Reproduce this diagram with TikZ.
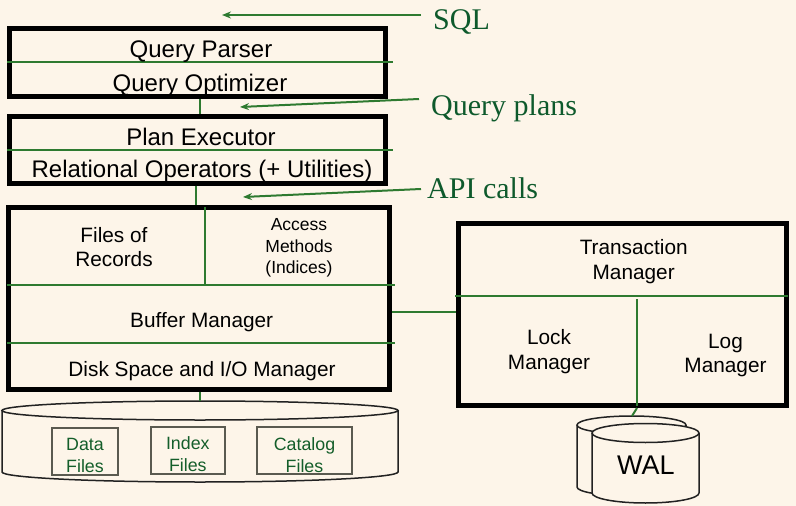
\documentclass[tikz,border=0pt]{standalone}
\usepackage{fontspec}
\setmainfont{Liberation Sans}
\newfontfamily\labelserif{Liberation Serif}
\usetikzlibrary{arrows.meta}
\definecolor{bg}{HTML}{FDF5E9}
\definecolor{gline}{HTML}{2E7A30}
\definecolor{glabel}{HTML}{0E5A2C}
\definecolor{ftext}{HTML}{145E2A}
\definecolor{cyl}{HTML}{222222}
\definecolor{fborder}{HTML}{5A5A50}
\begin{document}
\begin{tikzpicture}[x=1pt,y=-1pt,
  bigbox/.style={draw=black, line width=5pt, fill=bg, inner sep=0pt},
  grn/.style={draw=gline, line width=2pt},
  garrow/.style={grn, -{Stealth[length=9pt,width=7pt]}},
  lbl/.style={anchor=base, inner sep=0pt, align=center, text=black},
  big/.style={lbl, font=\fontsize{24}{28}\selectfont},
  mid/.style={lbl, font=\fontsize{20.8}{24.5}\selectfont},
  small/.style={lbl, font=\fontsize{17.5}{21.4}\selectfont},
  ftxt/.style={lbl, text=ftext, font=\fontsize{17.8}{22}\selectfont},
  fbox/.style={draw=fborder, line width=1.5pt, fill=bg, inner sep=0pt},
  slabel/.style={anchor=base west, inner sep=0pt, text=glabel, font=\labelserif\fontsize{30}{34}\selectfont},
  cylline/.style={draw=cyl, line width=1.5pt}
]
\fill[bg] (0,0) rectangle (796,506);
\useasboundingbox (0,0) rectangle (796,506);

% main boxes
\node[bigbox, minimum width=375.9pt, minimum height=68pt] (qbox) at (197.75,62) {};
\node[bigbox, minimum width=375.9pt, minimum height=67pt] (pbox) at (197.75,149.5) {};
\node[bigbox, minimum width=380.2pt, minimum height=182.5pt] (sbox) at (198.9,298.25) {};
\node[bigbox, minimum width=327.7pt, minimum height=182.5pt] (tbox) at (622.15,314.25) {};

% dividers
\draw[grn] (7,62) -- (393,62);
\draw[grn] (7,150) -- (393,150);
\draw[grn] (7,285) -- (395,285);
\draw[grn] (7,343) -- (395,343);
\draw[grn] (205,207) -- (205,285);
\draw[grn] (455,296) -- (788,296);
\draw[grn] (637,299) -- (637,406);

% disk cylinder
\coordinate (disktop) at (200,401);
\fill[bg] (2,410.5) -- (2,472) arc[start angle=180, end angle=0, x radius=198, y radius=10] -- (398,410.5) -- cycle;
\draw[cylline] (2,410.5) -- (2,472) arc[start angle=180, end angle=0, x radius=198, y radius=10] -- (398,410.5);
\filldraw[cylline, fill=bg] (200,410.5) ellipse[x radius=198, y radius=9.5];

% file boxes
\node[fbox, minimum width=66pt, minimum height=47pt] (dfbox) at (85,451.5) {};
\node[fbox, minimum width=74pt, minimum height=47pt] (ifbox) at (188,450.5) {};
\node[fbox, minimum width=95pt, minimum height=47pt] (cfbox) at (304.5,450.5) {};
\node[ftxt] (dft) at (85,472.7) {Data\\Files};
\node[ftxt] (ift) at (187.8,471.7) {Index\\Files};
\node[ftxt] (cft) at (304.5,472) {Catalog\\Files};

% WAL cylinders
\coordinate (waltop) at (632,416);
\fill[bg] (577,425) -- (577,487) arc[start angle=180, end angle=0, x radius=54.5, y radius=9] -- (686,425) -- cycle;
\draw[cylline] (577,425) -- (577,487) arc[start angle=180, end angle=0, x radius=54.5, y radius=9] -- (686,425);
\filldraw[cylline, fill=bg] (631.5,425) ellipse[x radius=54.5, y radius=9];
\fill[bg] (592,433) -- (592,493) arc[start angle=180, end angle=0, x radius=53.5, y radius=10] -- (699,433) -- cycle;
\draw[cylline] (592,433) -- (592,493) arc[start angle=180, end angle=0, x radius=53.5, y radius=10] -- (699,433);
\filldraw[cylline, fill=bg] (645.5,433) ellipse[x radius=53.5, y radius=9.5];
\node[lbl, font=\fontsize{27}{30}\selectfont] (wal) at (645.8,474.3) {WAL};

% connectors
\draw[grn] ([xshift=2.25pt]qbox.south) -- ([xshift=2.25pt]pbox.north);
\draw[grn] ([xshift=-1.75pt]pbox.south) -- ([xshift=-1.75pt]pbox.south |- sbox.north);
\draw[grn] ([xshift=1.1pt]sbox.south) -- (disktop);
\coordinate (link) at (0,312);
\draw[grn] (sbox.east |- link) -- (tbox.west |- link);
\draw[grn] ([xshift=14.85pt]tbox.south) -- (waltop);

% box texts
\node[big] (qp) at (201,57) {Query Parser};
\node[big] (qo) at (200,91) {Query Optimizer};
\node[big] (pe) at (201,145) {Plan Executor};
\node[big] (ro) at (202,177) {Relational Operators (+ Utilities)};
\node[mid] (fr) at (114,266.7) {Files of\\Records};
\node[small] (am) at (299,273.7) {Access\\Methods\\(Indices)};
\node[mid] (bm) at (201.7,327.3) {Buffer Manager};
\node[mid] (ds) at (202,376) {Disk Space and I/O Manager};
\node[mid] (tm) at (633.7,279.3) {Transaction\\Manager};
\node[mid] (lm) at (549,369.3) {Lock\\Manager};
\node[mid] (gm) at (725.5,372.7) {Log\\Manager};

% side labels and arrows
\node[slabel] (sql) at (433,29) {SQL};
\node[slabel] (qpl) at (431,115) {Query plans};
\node[slabel] (api) at (427,198.3) {API calls};
\coordinate (sqlfrom) at (421,15);
\coordinate (sqlto) at (222,15);
\coordinate (qplfrom) at (419,99);
\coordinate (qplto) at (240,107);
\coordinate (apifrom) at (421,189);
\coordinate (apito) at (243,197);
\draw[garrow] (sqlfrom) -- (sqlto);
\draw[garrow] (qplfrom) -- (qplto);
\draw[garrow] (apifrom) -- (apito);
\end{tikzpicture}
\end{document}
